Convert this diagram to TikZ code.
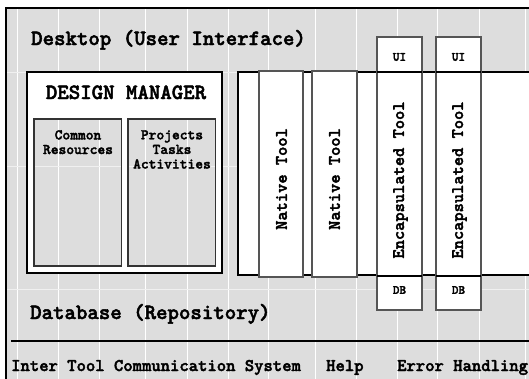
\documentclass[tikz,border=0pt]{standalone}
\usepackage{fontspec}
\newfontfamily\typebold{lmmonolt10-bold.otf}[FakeBold=2.2]
\definecolor{panel}{HTML}{DDDDDD}
\definecolor{edge}{HTML}{555555}
\newcommand{\tw}[1]{\fontsize{#1}{1.2\dimexpr#1pt\relax}\typebold\selectfont}
\begin{document}
\begin{tikzpicture}[x=1pt,y=-1pt,
  bigtext/.style={font=\tw{21.8}, inner sep=0pt},
  bartext/.style={font=\tw{17.8}, inner sep=0pt, anchor=base west},
  smalltext/.style={font=\fontsize{14.8}{14.6}\typebold\selectfont, inner sep=0pt, align=center, anchor=base},
  tooltext/.style={font=\tw{17.6}, inner sep=0pt, rotate=90},
  tagtext/.style={font=\tw{12.6}, inner sep=0pt},
  outline/.style={draw=black, line width=1.5pt, inner sep=0pt, outer sep=0pt, rectangle},
  subbox/.style={draw=black!80, line width=1.2pt, inner sep=0pt, outer sep=0pt, rectangle},
  toolbox/.style={draw=edge, line width=1.3pt, fill=white, inner sep=0pt, outer sep=0pt, rectangle},
  tagbox/.style={draw=edge, line width=1.3pt, fill=white, inner sep=0pt, outer sep=0pt, rectangle, minimum width=45pt},
]
\useasboundingbox (0,0) rectangle (529,378);
\begin{scope}
  \clip (0,0) rectangle (529,378);
  % grey panel with its light grid
  \fill[panel] (6,8) rectangle (560,400);
  \foreach \gx in {17,58,99,145,187,228,268,315,356,397,437,479,525}
    \draw[white, line width=1pt] (\gx,8) -- (\gx,400);
  \foreach \gy in {72,166,289}
    \draw[white!55!panel, line width=1pt] (6,\gy) -- (560,\gy);
  \draw[black, line width=1.5pt] (6,400) -- (6,8) -- (560,8);

  % design manager: white frame around two open compartments
  \fill[white, even odd rule] (27,72) rectangle (222,273)
        (34,119) rectangle (121.5,266) (128,119) rectangle (215.5,266);
  \node[outline, minimum width=195pt, minimum height=201pt] (dm) at (124.5,172.5) {};
  \node[subbox, minimum width=87.5pt, minimum height=147pt] (res) at (77.75,192.5) {};
  \node[subbox, minimum width=87.5pt, minimum height=147pt] (proj) at (171.75,192.5) {};

  % tool stack
  \node[draw=black, line width=1.3pt, fill=white, inner sep=0pt, outer sep=0pt,
        minimum width=320pt, minimum height=203pt] (stack) at (398,173.5) {};
  \node[toolbox, minimum width=44pt, minimum height=206pt] (nt1) at (281,174) {};
  \node[toolbox, minimum width=45pt, minimum height=206pt] (nt2) at (334.5,174) {};
  \node[toolbox, minimum width=45pt, minimum height=204pt] (et1) at (399.5,174) {};
  \node[toolbox, minimum width=45pt, minimum height=204pt] (et2) at (458.5,174) {};
  \node[tagbox, minimum height=35pt] (ui1) at (399.5,54.5) {};
  \node[tagbox, minimum height=35pt] (ui2) at (458.5,54.5) {};
  \node[tagbox, minimum height=34pt] (db1) at (399.5,293) {};
  \node[tagbox, minimum height=34pt] (db2) at (458.5,293) {};
  \draw[black, line width=1.2pt] (ui1.south west) -- (ui1.south east);
  \draw[black, line width=1.2pt] (ui2.south west) -- (ui2.south east);
  \draw[black, line width=1.2pt] (db1.north west) -- (db1.north east);
  \draw[black, line width=1.2pt] (db2.north west) -- (db2.north east);

  % service bar separator
  \coordinate (barL) at (11,341);
  \coordinate (barR) at (560,341);
  \draw[black, line width=1.5pt] (barL) -- (barR);
\end{scope}

% labels
\node[bigtext, anchor=base west] (desk) at (31,45) {Desktop (User Interface)};
\node[bigtext, anchor=base west] (repo) at (30,319) {Database (Repository)};
\node[bigtext, anchor=base] (dmt) at (126,99) {DESIGN MANAGER};
\node[smalltext] (rest) at (78,154) {Common\\Resources};
\node[smalltext] (projt) at (172,168.5) {Projects\\Tasks\\Activities};

\node[tooltext] (nt1t) at (281.5,179) {Native Tool};
\node[tooltext] (nt2t) at (334.5,179) {Native Tool};
\node[tooltext] (et1t) at (400.5,180) {Encapsulated Tool};
\node[tooltext] (et2t) at (459.5,180) {Encapsulated Tool};
\node[tagtext] (ui1t) at (399.5,57) {UI};
\node[tagtext] (ui2t) at (458.5,57) {UI};
\node[tagtext] (db1t) at (399.5,290) {DB};
\node[tagtext] (db2t) at (458.5,290) {DB};

\node[bartext] (itc) at (11,371) {Inter Tool Communication System};
\node[bartext] (help) at (326,371) {Help};
\node[bartext] (err) at (397,371) {Error Handling};
\end{tikzpicture}
\end{document}
